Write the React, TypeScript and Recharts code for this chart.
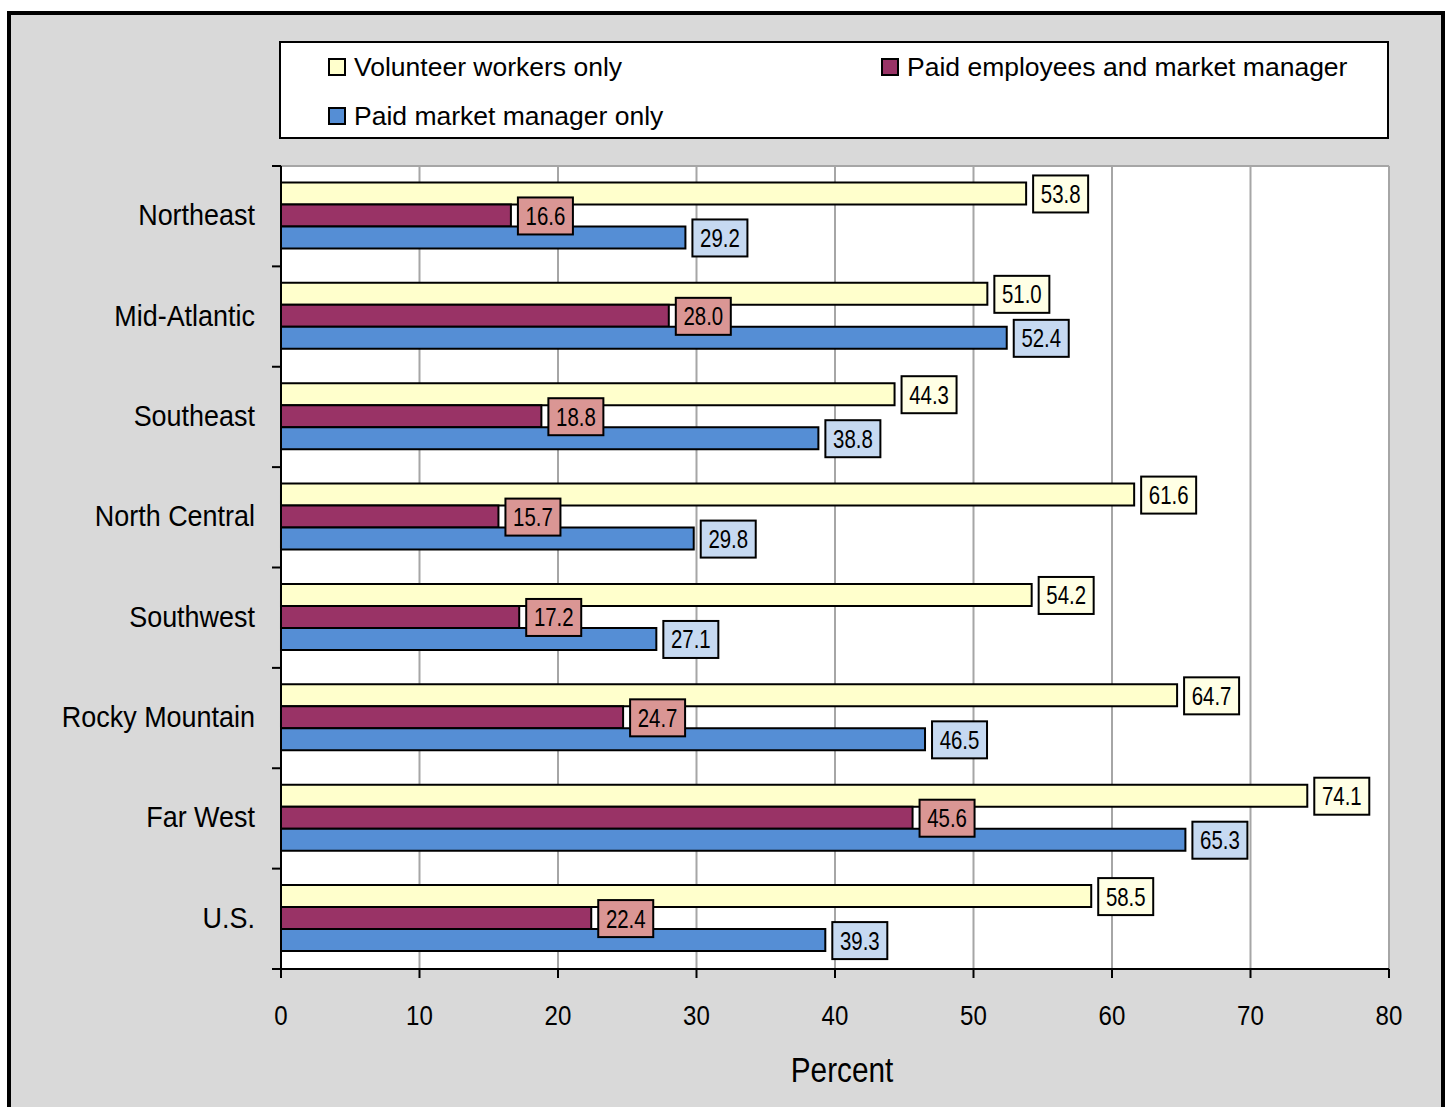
import React from 'react';
import { BarChart, Bar, XAxis, YAxis, CartesianGrid, Legend, LabelList, Label } from 'recharts';

const regions = ['Northeast', 'Mid-Atlantic', 'Southeast', 'North Central', 'Southwest', 'Rocky Mountain', 'Far West', 'U.S.'];
const volunteerOnly = [53.8, 51.0, 44.3, 61.6, 54.2, 64.7, 74.1, 58.5];
const paidEmployeesAndManager = [16.6, 28.0, 18.8, 15.7, 17.2, 24.7, 45.6, 22.4];
const paidManagerOnly = [29.2, 52.4, 38.8, 29.8, 27.1, 46.5, 65.3, 39.3];
const xTicks = [0, 10, 20, 30, 40, 50, 60, 70, 80];
const seriesNames = ['Volunteer workers only', 'Paid employees and market manager', 'Paid market manager only'];
const axisTitle = 'Percent';

const data = regions.map((r, i) => ({
  region: r,
  volunteer: volunteerOnly[i],
  paidEmp: paidEmployeesAndManager[i],
  paidMgr: paidManagerOnly[i],
}));

const FONT = "'Liberation Sans', Arial, sans-serif";
const W = 1447;
const H = 1107;
const PLOT_LEFT = 281;
const PLOT_TOP = 166;
const PLOT_RIGHT = 1389;
const PLOT_BOTTOM = 969;
const PLOT_H = PLOT_BOTTOM - PLOT_TOP;

const COLORS = ['#FFFFCC', '#993366', '#558ED5'];
const LABEL_FILLS = ['#FFFFE5', '#DA9694', '#C6D9F1'];

const NarrowText = ({ x, y, size, sx, anchor, children }: any) => (
  <g transform={`translate(${x},${y}) scale(${sx},1)`}>
    <text x={0} y={0} textAnchor={anchor} fontSize={size} fontFamily={FONT} fill="#000">
      {children}
    </text>
  </g>
);

const makeLabel = (fill: string) => (props: any) => {
  const { x, y, width, height, value } = props;
  const bx = Number(x) + Number(width) + 7;
  const cy = Number(y) + Number(height) / 2 + 0.5;
  return (
    <g>
      <rect x={bx} y={cy - 18.5} width={55} height={37} fill={fill} stroke="#000" strokeWidth={2} />
      <NarrowText x={bx + 27.5} y={cy + 9} size={25.5} sx={0.8} anchor="middle">
        {Number(value).toFixed(1)}
      </NarrowText>
    </g>
  );
};

const YTick = (props: any) => {
  const { y, payload, index } = props;
  const band = PLOT_H / regions.length;
  return (
    <g>
      <NarrowText x={PLOT_LEFT - 26} y={y + 9} size={29.3} sx={0.92} anchor="end">
        {payload.value}
      </NarrowText>
      <line x1={PLOT_LEFT - 9} x2={PLOT_LEFT} y1={y - band / 2} y2={y - band / 2} stroke="#000" strokeWidth={2} />
      {index === regions.length - 1 && (
        <line x1={PLOT_LEFT - 9} x2={PLOT_LEFT} y1={y + band / 2} y2={y + band / 2} stroke="#000" strokeWidth={2} />
      )}
    </g>
  );
};

const XTick = (props: any) => {
  const { x, y, payload } = props;
  return (
    <NarrowText x={x} y={y + 47} size={28} sx={0.86} anchor="middle">
      {payload.value}
    </NarrowText>
  );
};

const PercentLabel = (props: any) => {
  const vb = props.viewBox || {};
  return (
    <NarrowText x={vb.x + vb.width / 2 + 7} y={vb.y + 113} size={35} sx={0.85} anchor="middle">
      {axisTitle}
    </NarrowText>
  );
};

const LegendContent = () => {
  const item = (i: number, left: number, top: number) => (
    <div key={i} style={{ position: 'absolute', left, top, display: 'flex', alignItems: 'center', height: 30 }}>
      <div style={{ width: 14, height: 14, border: '2px solid #000', background: COLORS[i], marginRight: 8 }} />
      <span style={{ fontSize: 26.5, fontFamily: FONT, color: '#000', whiteSpace: 'nowrap', lineHeight: '30px' }}>{seriesNames[i]}</span>
    </div>
  );
  return (
    <div style={{ width: 1110, height: 98, boxSizing: 'border-box', border: '2px solid #000', background: '#fff', position: 'relative' }}>
      {item(0, 47, 9)}
      {item(1, 600, 9)}
      {item(2, 47, 58)}
    </div>
  );
};

export default function App() {
  return (
    <div>
      <style>{`html,body{margin:0;padding:0;overflow:hidden;}`}</style>
      <div
        style={{
          position: 'absolute',
          left: 7,
          top: 11,
          width: 1438,
          height: 1110,
          boxSizing: 'border-box',
          border: '4px solid #000',
          background: '#D9D9D9',
        }}
      />
      <div style={{ position: 'absolute', left: 0, top: 0 }}>
        <BarChart
          width={W}
          height={H}
          data={data}
          layout="vertical"
          margin={{ top: PLOT_TOP, right: W - PLOT_RIGHT, bottom: 0, left: 0 }}
          barCategoryGap="16.4%"
          barGap={0}
        >
          <CartesianGrid
            horizontal
            horizontalPoints={[PLOT_TOP]}
            vertical
            stroke="#A6A6A6"
            strokeWidth={2}
            fill="#FFFFFF"
          />
          <XAxis
            type="number"
            domain={[0, 80]}
            ticks={xTicks}
            height={H - PLOT_BOTTOM}
            axisLine={{ stroke: '#000', strokeWidth: 2 }}
            tickLine={{ stroke: '#000', strokeWidth: 2 }}
            tickSize={9}
            tickMargin={0}
            tick={<XTick />}
            interval={0}
          >
            <Label position="insideTop" content={<PercentLabel />} />
          </XAxis>
          <YAxis
            type="category"
            dataKey="region"
            width={PLOT_LEFT}
            axisLine={{ stroke: '#000', strokeWidth: 2 }}
            tickLine={false}
            tick={<YTick />}
            interval={0}
          />
          <Legend
            layout="horizontal"
            align="center"
            verticalAlign="middle"
            content={<LegendContent />}
            wrapperStyle={{ position: 'absolute', left: 279, top: 41, width: 1110, height: 98 }}
          />
          <Bar dataKey="volunteer" name={seriesNames[0]} fill={COLORS[0]} stroke="#000" strokeWidth={2} isAnimationActive={false}>
            <LabelList dataKey="volunteer" content={makeLabel(LABEL_FILLS[0])} />
          </Bar>
          <Bar dataKey="paidEmp" name={seriesNames[1]} fill={COLORS[1]} stroke="#000" strokeWidth={2} isAnimationActive={false}>
            <LabelList dataKey="paidEmp" content={makeLabel(LABEL_FILLS[1])} />
          </Bar>
          <Bar dataKey="paidMgr" name={seriesNames[2]} fill={COLORS[2]} stroke="#000" strokeWidth={2} isAnimationActive={false}>
            <LabelList dataKey="paidMgr" content={makeLabel(LABEL_FILLS[2])} />
          </Bar>
        </BarChart>
      </div>
    </div>
  );
}
